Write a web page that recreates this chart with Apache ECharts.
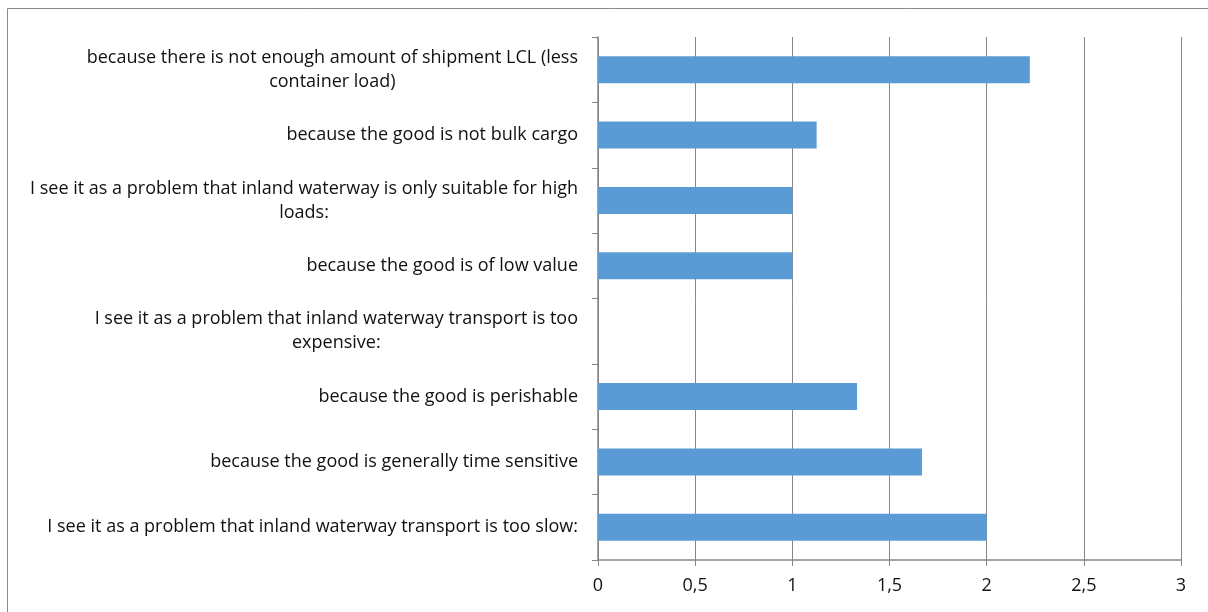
<!DOCTYPE html>
<html>
<head>
<meta charset="utf-8">
<script src="https://cdn.jsdelivr.net/npm/echarts@6/dist/echarts.min.js"></script>
<style>
  html, body { margin: 0; padding: 0; background: #ffffff; }
  #chart { width: 1208px; height: 612px; }
</style>
</head>
<body>
<div id="chart"></div>
<script>
// Survey answers, listed bottom to top as the category axis draws them
const categories = [
  'I see it as a problem that inland waterway transport is too slow:',
  'because the good is generally time sensitive',
  'because the good is perishable',
  'I see it as a problem that inland waterway transport is too\nexpensive:',
  'because the good is of low value',
  'I see it as a problem that inland waterway is only suitable for high\nloads:',
  'because the good is not bulk cargo',
  'because there is not enough amount of shipment LCL (less\ncontainer load)'
];
const values = [2.0, 1.667, 1.333, 0, 1.0, 1.0, 1.125, 2.222];

// Value axis range and step; tick labels use a decimal comma
const axisMin = 0;
const axisMax = 3;
const axisStep = 0.5;

const FONT = 'Open Sans';
const FONT_SIZE = 18;
const TEXT_COLOR = '#111111';
const LINE_COLOR = '#868686';

const chart = echarts.init(document.getElementById('chart'), null, { renderer: 'canvas' });

chart.setOption({
  animation: false,
  backgroundColor: '#ffffff',
  graphic: [{
    type: 'rect',
    shape: { x: 7.5, y: 8.5, width: 1240, height: 640 },
    style: { fill: 'none', stroke: '#8a8a8a', lineWidth: 1 },
    silent: true
  }],
  grid: { left: 598, right: 27, top: 37, bottom: 52, containLabel: false },
  xAxis: {
    type: 'value',
    min: axisMin,
    max: axisMax,
    interval: axisStep,
    axisLine: { show: true, lineStyle: { color: LINE_COLOR, width: 1.5 } },
    axisTick: { show: true, length: 6, lineStyle: { color: LINE_COLOR, width: 1 } },
    splitLine: { show: true, lineStyle: { color: LINE_COLOR, width: 1 } },
    axisLabel: {
      margin: 17,
      fontFamily: FONT,
      fontSize: FONT_SIZE,
      color: TEXT_COLOR,
      formatter: v => String(v).replace('.', ',')
    }
  },
  yAxis: {
    type: 'category',
    data: categories,
    axisLine: { show: true, lineStyle: { color: LINE_COLOR, width: 1.5 } },
    axisTick: { show: true, length: 6, alignWithLabel: false, lineStyle: { color: LINE_COLOR, width: 1 } },
    splitLine: { show: false },
    axisLabel: {
      margin: 20,
      align: 'right',
      interval: 0,
      formatter: s => s.split('\n').map(l => '{c|' + l + '}').join('\n'),
      rich: {
        c: {
          align: 'center',
          fontFamily: FONT,
          fontSize: FONT_SIZE,
          lineHeight: 24,
          color: TEXT_COLOR
        }
      }
    }
  },
  series: [{
    type: 'bar',
    data: values,
    barWidth: 27,
    itemStyle: { color: '#5b9bd5' }
  }]
});
</script>
</body>
</html>
